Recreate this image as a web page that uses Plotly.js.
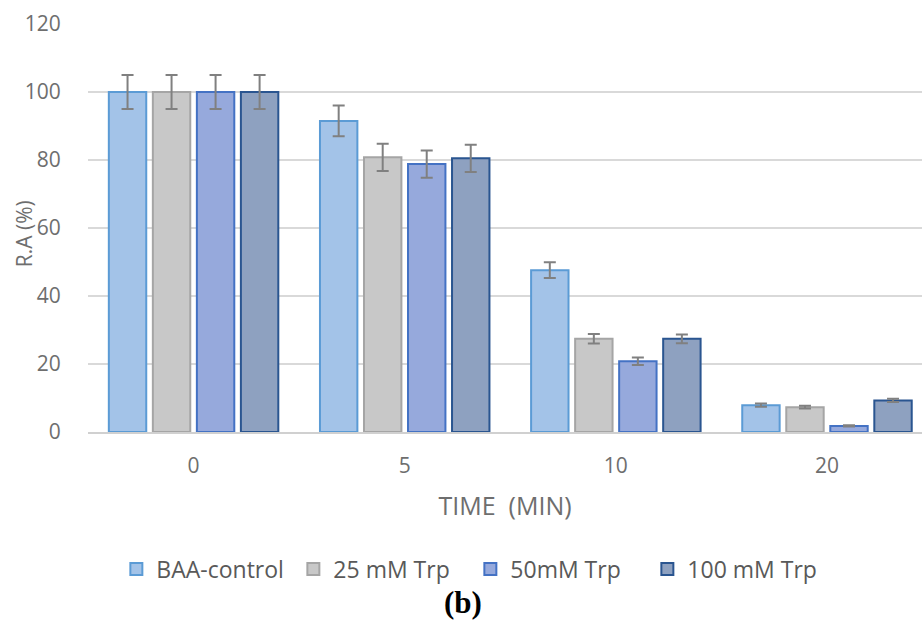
<!DOCTYPE html>
<html>
<head>
<meta charset="utf-8">
<script src="https://cdn.plot.ly/plotly-3.0.1.min.js"></script>
<style>html,body{margin:0;padding:0;background:#fff;}#chart{width:922px;height:625px;}</style>
</head>
<body>
<div id="chart"></div>
<script>
const categories = ["0", "5", "10", "20"];
const seriesNames = ["BAA-control", "25 mM Trp", "50mM Trp", "100 mM Trp"];
const baaControl = [100, 91.5, 47.6, 7.9];
const trp25 = [100, 80.8, 27.4, 7.3];
const trp50 = [100, 78.8, 20.8, 1.8];
const trp100 = [100, 80.5, 27.4, 9.3];
const errBaa = [5, 4.5, 2.3, 0.5];
const err25 = [5, 4, 1.4, 0.4];
const err50 = [5, 4, 1.1, 0.2];
const err100 = [5, 4, 1.3, 0.5];

const fills = ["#a3c3e8", "#c8c8c8", "#96a9dc", "#8ea1c0"];
const borders = ["#5b9bd5", "#a5a5a5", "#4472c4", "#2a5590"];
const values = [baaControl, trp25, trp50, trp100];
const errs = [errBaa, err25, err50, err100];

const traces = values.map((v, i) => ({
  type: "bar",
  name: seriesNames[i],
  x: categories,
  y: v,
  marker: {color: fills[i], line: {color: borders[i], width: 2}},
  error_y: {type: "data", array: errs[i], visible: true, color: "#808080", thickness: 2, width: 6}
}));

const font = "Open Sans, Noto Sans, sans-serif";
const layout = {
  width: 922, height: 625,
  margin: {l: 88, r: 0, t: 24, b: 193},
  paper_bgcolor: "#fff", plot_bgcolor: "#fff",
  barmode: "group", bargap: 0.166, bargroupgap: 0.15,
  font: {family: font, color: "#757575", size: 20},
  xaxis: {
    type: "category", range: [-0.5, 3.45],
    showgrid: false, showline: true, linecolor: "#d0d0d0", linewidth: 2,
    ticks: "outside", ticklen: 14, tickcolor: "rgba(0,0,0,0)",
    tickfont: {size: 21, color: "#6e6e6e"},
    title: {text: "TIME&nbsp;&nbsp;(MIN)", font: {size: 25, color: "#6e6e6e"}, standoff: 19}
  },
  yaxis: {
    range: [0, 120], dtick: 20,
    gridcolor: "#d9d9d9", gridwidth: 2, zeroline: false,
    ticks: "outside", ticklen: 22, tickcolor: "rgba(0,0,0,0)",
    tickfont: {size: 21, color: "#6e6e6e"}
  },
  showlegend: true,
  legend: {orientation: "h", x: 0.034, xanchor: "left", y: -0.336, yanchor: "middle",
           font: {size: 23, color: "#595959"}, itemwidth: 30, traceorder: "normal",
           entrywidth: 132, entrywidthmode: "pixels"},
  annotations: [{
    text: "R.A (%)", xref: "paper", yref: "paper", x: -0.0767, y: 0.485, textangle: -90,
    xanchor: "center", yanchor: "middle", showarrow: false,
    font: {size: 21, color: "#6e6e6e"}
  }, {
    text: "<b>(b)</b>", xref: "paper", yref: "paper", x: 0.45, y: -0.419, yanchor: "middle",
    showarrow: false, font: {family: "Liberation Serif, Times New Roman, serif", size: 31, color: "#000"}
  }]
};
Plotly.newPlot("chart", traces, layout, {displayModeBar: false, staticPlot: true});
</script>
</body>
</html>
